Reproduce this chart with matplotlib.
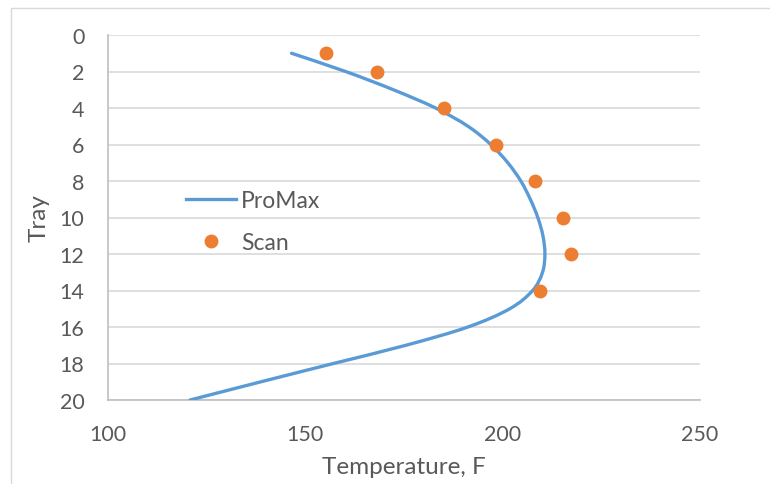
import numpy as np
import matplotlib.pyplot as plt
from matplotlib.path import Path
from matplotlib.patches import PathPatch, Rectangle
from matplotlib.lines import Line2D

plt.rcParams['font.family'] = ['Lato', 'DejaVu Sans']

# ProMax simulated temperature profile (tray 1..20)
promax_tray = [1, 2, 3, 4, 5, 6, 7, 8, 9, 10, 11, 12, 13, 14, 15, 16, 17, 18, 19, 20]
promax_temp = [146.5, 160.2, 172.3, 183.0, 191.2, 197.0, 201.3, 204.6, 207.0, 208.9,
               210.2, 210.7, 210.1, 207.6, 201.8, 191.2, 175.5, 157.1, 138.8, 120.8]

# scanned tray temperatures
scan_tray = [1, 2, 4, 6, 8, 10, 12, 14]
scan_temp = [155.2, 168.2, 185.2, 198.3, 208.3, 215.3, 217.4, 209.4]

blue = '#5B9BD5'
orange = '#ED7D31'
grey_txt = '#595959'


# smooth line like excel: cubic bezier through the points
def smooth_path(xs, ys, k=1 / 6):
    p = np.column_stack([xs, ys]).astype(float)
    verts = [p[0]]
    codes = [Path.MOVETO]
    n = len(p)
    for i in range(n - 1):
        p0 = p[i - 1] if i > 0 else p[i]
        p3 = p[i + 2] if i + 2 < n else p[i + 1]
        c1 = p[i] + (p[i + 1] - p0) * k
        c2 = p[i + 1] - (p3 - p[i]) * k
        verts += [c1, c2, p[i + 1]]
        codes += [Path.CURVE4] * 3
    return Path(verts, codes)


fig = plt.figure(figsize=(7.7, 4.85), dpi=100)
# chart area border (only left/top edges are inside the picture)
fig.patches.append(Rectangle((10.5 / 770, -0.1), 1.2, 1.1 - 8.5 / 485,
                             transform=fig.transFigure, fill=False,
                             edgecolor='#d9d9d9', lw=1))
ax = fig.add_axes([108 / 770, 1 - 401 / 485, 592 / 770, 365 / 485])

ax.add_patch(PathPatch(smooth_path(promax_temp, promax_tray), fill=False,
                       edgecolor=blue, lw=2.4, capstyle='round', zorder=3))
ax.plot(scan_temp, scan_tray, 'o', color=orange, ms=10, mec='none', zorder=4)

ax.set_xlim(100, 250)
ax.set_ylim(20, 0)
ax.set_xticks([100, 150, 200, 250])
ax.set_yticks(range(0, 21, 2))
ax.grid(axis='y', color='#d9d9d9', lw=1.2)
ax.set_axisbelow(True)
for s in ['top', 'right']:
    ax.spines[s].set_visible(False)
for s in ['left', 'bottom']:
    ax.spines[s].set_color('#bfbfbf')
    ax.spines[s].set_linewidth(1.2)
ax.tick_params(axis='both', length=0, labelsize=15.5, labelcolor=grey_txt)
ax.tick_params(axis='x', pad=17)
ax.tick_params(axis='y', pad=17)

ax.set_xlabel('Temperature, F', fontsize=17.5, color=grey_txt, labelpad=9)
ax.set_ylabel('Tray', fontsize=17.5, color=grey_txt, labelpad=7)

handles = [Line2D([], [], color=blue, lw=2.4),
           Line2D([], [], marker='o', ls='none', color=orange, ms=10, mec='none')]
ax.legend(handles, ['ProMax', 'Scan'], loc='center left',
          bbox_to_anchor=(0.097, 0.489), frameon=False, fontsize=16.5,
          labelcolor=grey_txt, handlelength=2.2, handletextpad=0.2,
          labelspacing=0.95)

fig.savefig('out.png', dpi=100)
